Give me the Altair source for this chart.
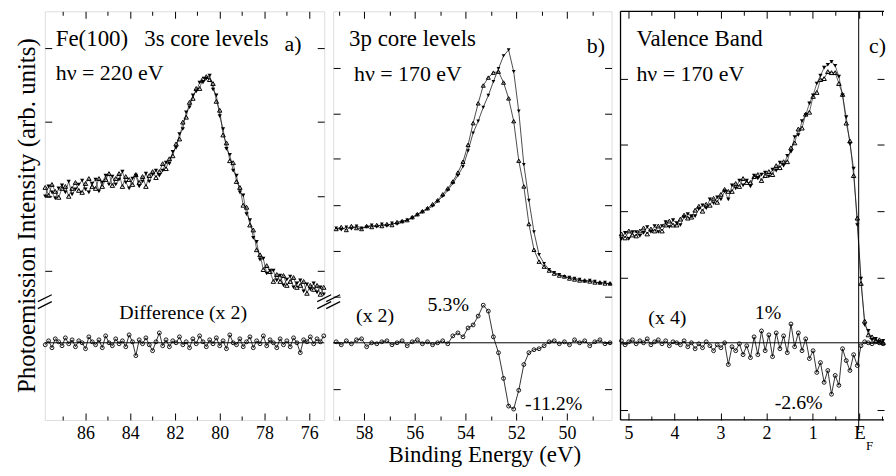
import altair as alt
import numpy as np
import pandas as pd

FONT = "Liberation Serif, Times New Roman, serif"
H = 411  # plot height (px); intensity units are arbitrary (0..413)

# ---------------- Panel a: Fe 3s core levels ----------------
a_E = np.round(87.80 - 0.15 * np.arange(84), 2)
a_A = [235, 227, 238, 231, 225, 234, 236, 226, 234, 240,
       232, 230, 239, 244, 236, 234, 244, 236, 243, 249,
       237, 244, 249, 236, 246, 243, 238, 248, 240, 246,
       236, 247, 251, 245, 251, 259, 254, 264, 267, 279,
       284, 301, 306, 321, 325, 335, 335, 345, 347, 344,
       340, 322, 313, 288, 280, 262, 260, 241, 235, 217,
       215, 197, 192, 172, 167, 152, 156, 150, 140, 147,
       140, 146, 136, 140, 144, 134, 136, 140, 128, 136,
       132, 136, 127, 134]
a_B = [226, 236, 230, 224, 234, 237, 230, 241, 228, 233,
       238, 242, 233, 230, 239, 243, 231, 240, 247, 238,
       246, 238, 243, 251, 240, 234, 244, 247, 236, 241,
       249, 241, 248, 252, 247, 252, 260, 259, 271, 275,
       289, 294, 311, 316, 328, 332, 341, 341, 345, 348,
       334, 328, 307, 294, 274, 268, 252, 247, 230, 227,
       208, 202, 184, 180, 162, 163, 148, 151, 151, 141,
       146, 136, 142, 145, 134, 138, 141, 130, 137, 132,
       138, 129, 134, 127]
a_D = [76, 80, 73, 82, 79, 75, 83, 77, 81, 74,
       80, 78, 72, 84, 79, 76, 81, 73, 85, 78,
       75, 82, 77, 80, 74, 86, 79, 65, 81, 77,
       83, 76, 70, 79, 88, 75, 81, 74, 80, 78,
       84, 76, 79, 73, 82, 77, 85, 79, 74, 81,
       77, 83, 75, 80, 72, 86, 78, 76, 82, 74,
       79, 84, 73, 80, 77, 85, 75, 81, 78, 73,
       82, 76, 80, 74, 83, 78, 68, 81, 79, 84,
       77, 82, 79, 85]

# ---------------- Panel b: Fe 3p core levels ----------------
b_E = np.round(59.1 - 0.2 * np.arange(55), 2)
b_A = [193, 195, 192, 196, 194, 193, 196, 195, 197, 196,
       198, 197, 200, 201, 202, 205, 208, 211, 214, 218,
       222, 228, 234, 241, 250, 261, 278, 300, 320, 338,
       346, 351, 352, 341, 325, 302, 262, 236, 198, 172,
       160, 155, 151, 148, 146, 145, 143, 142, 141, 141,
       140, 139, 139, 138, 138]
b_B = [194, 192, 195, 193, 196, 194, 195, 197, 195, 198,
       196, 199, 198, 200, 202, 204, 207, 210, 213, 216,
       221, 226, 232, 239, 247, 256, 272, 290, 302, 316,
       328, 342, 355, 368, 374, 352, 312, 258, 222, 190,
       167, 158, 152, 149, 147, 145, 144, 143, 142, 140,
       141, 140, 138, 139, 137]
b_D = [79, 76, 80, 77, 81, 82, 74, 78, 77, 79,
       80, 76, 78, 80, 75, 79, 81, 77, 79, 76,
       78, 80, 77, 85, 88, 84, 93, 96, 105, 116,
       110, 84, 68, 42, 14, 11, 30, 56, 68, 71,
       72, 75, 79, 80, 77, 79, 76, 81, 78, 80,
       75, 79, 81, 77, 78]

# ---------------- Panel c: valence band ----------------
c_E = np.round(5.15 - 0.08 * np.arange(72), 2)
c_A = [188, 184, 191, 187, 186, 191, 194, 188, 193, 191,
       196, 191, 197, 201, 197, 197, 203, 207, 204, 205,
       212, 216, 211, 218, 217, 224, 220, 228, 233, 231,
       231, 239, 236, 244, 240, 240, 246, 248, 242, 247,
       251, 248, 257, 255, 261, 261, 275, 280, 294, 295,
       309, 311, 327, 331, 344, 345, 352, 351, 351, 340,
       329, 300, 282, 247, 204, 138, 100, 86, 84, 80,
       81, 78]
c_B = [183, 189, 183, 190, 190, 186, 189, 195, 190, 196,
       190, 196, 200, 195, 202, 199, 197, 205, 208, 206,
       206, 213, 217, 214, 223, 219, 225, 223, 231, 223,
       237, 234, 242, 237, 242, 236, 247, 244, 248, 250,
       246, 253, 252, 260, 257, 267, 271, 286, 288, 302,
       308, 320, 328, 340, 348, 356, 359, 362, 358, 347,
       328, 306, 279, 254, 197, 143, 96, 90, 81, 82,
       79, 80]
c_D = [80, 76, 79, 81, 77, 80, 78, 82, 76, 79,
       81, 77, 80, 75, 79, 78, 76, 80, 74, 78,
       72, 77, 73, 79, 75, 70, 76, 73, 78, 56,
       74, 70, 77, 66, 75, 63, 84, 66, 90, 70,
       86, 64, 88, 72, 85, 68, 97, 74, 88, 70,
       82, 62, 70, 48, 58, 38, 50, 26, 45, 35,
       72, 60, 50, 66, 55, 75, 79, 78, 77, 79,
       78, 77]

BASELINE = [78]

a_major = [86, 84, 82, 80, 78, 76]
a_minor = [87, 85, 83, 81, 79, 77]
b_major = [58, 56, 54, 52, 50]
b_minor = [59, 57, 55, 53, 51, 49]
c_major = [5, 4, 3, 2, 1, 0]
c_minor = [4.5, 3.5, 2.5, 1.5, 0.5, -0.5]
a_yticks = [376, 301, 226, 151]
b_yticks = [356, 310, 264, 217, 171, 125, 78, 31]
c_yticks = [345, 278, 211, 144, 77, 10]


def ax(orient, values, size, **kw):
    d = dict(orient=orient, values=values, tickSize=size, offset=-size,
             domain=False, grid=False, labels=False, ticks=True,
             tickColor="black", tickWidth=1, title=None)
    d.update(kw)
    return alt.Axis(**d)


def one():
    return pd.DataFrame({"k": [0]})


def txt(s, x, y, size=20, align="left"):
    return alt.Chart(one()).mark_text(
        text=s, font=FONT, fontSize=size, align=align,
        baseline="alphabetic", color="black"
    ).encode(x=alt.value(x), y=alt.value(y))


def seg(x1, y1, x2, y2, color="black", w=1.2):
    return alt.Chart(one()).mark_rule(color=color, strokeWidth=w).encode(
        x=alt.value(x1), y=alt.value(y1), x2=alt.value(x2), y2=alt.value(y2))


def brk(x):
    return [seg(x - 7, 292, x + 7, 285), seg(x - 7, 299, x + 7, 292)]


def panel(E, A, B, D, dom, width, major, minor, yticks, extras,
          xtitle=False, ytitle=False, label_expr=None, frame=True,
          lw=0.7, msize=(16, 14)):
    xs = alt.Scale(domain=dom, nice=False, zero=False)
    ys = alt.Scale(domain=[0, 413], nice=False, zero=False)
    spec = pd.DataFrame({"E": list(E) * 2, "I": list(A) + list(B),
                         "s": ["A"] * len(E) + ["B"] * len(E)})
    sa = pd.DataFrame({"E": E, "I": A})
    sb = pd.DataFrame({"E": E, "I": B})
    dd = pd.DataFrame({"E": E, "D": D})

    bkw = dict(labels=True, labelFont=FONT, labelFontSize=18, labelColor="black",
               labelBaseline="alphabetic", labelPadding=19, labelFlush=False,
               labelOverlap=False)
    if label_expr:
        bkw["labelExpr"] = label_expr
    if xtitle:
        bkw.update(title="Binding Energy (eV)", titleFont=FONT, titleFontSize=23,
                   titleFontWeight="normal", titleColor="black",
                   titleBaseline="alphabetic", titleX=152, titleY=49)
    lkw = {}
    if ytitle:
        lkw.update(title="Photoemission Intensity (arb. units)", titleFont=FONT,
                   titleFontSize=25, titleFontWeight="normal", titleColor="black",
                   titleBaseline="alphabetic", titleX=-17, titleY=205, titleAngle=270)

    bottom = ax("bottom", major, 7, **bkw)
    top = ax("top", major, 7)
    bmin = ax("bottom", minor, 4)
    tmin = ax("top", minor, 4)
    left = ax("left", yticks, 7, **lkw)
    right = ax("right", yticks, 7)

    def X(f, axis=None):
        return alt.X(f, type="quantitative", scale=xs, axis=axis)

    def Y(f, axis=None):
        return alt.Y(f, type="quantitative", scale=ys, axis=axis)

    base = alt.Chart(pd.DataFrame({"I": BASELINE})).mark_rule(
        color="black", strokeWidth=1).encode(y=Y("I"))
    sline = alt.Chart(spec).mark_line(color="black", strokeWidth=lw).encode(
        x=X("E", bottom), y=Y("I", left), detail="s:N")
    pa = alt.Chart(sa).mark_point(shape="triangle-up", filled=False, size=msize[0],
                                  color="black", strokeWidth=1.0, opacity=1).encode(
        x=X("E", top), y=Y("I", right))
    pb = alt.Chart(sb).mark_point(shape="triangle-down", filled=True, size=msize[1],
                                  color="black", opacity=1).encode(
        x=X("E", bmin), y=Y("I"))
    dline = alt.Chart(dd).mark_line(color="black", strokeWidth=0.8).encode(
        x=X("E", tmin), y=Y("D"))
    dpts = alt.Chart(dd).mark_point(shape="circle", filled=False, size=15,
                                    color="black", strokeWidth=0.9, opacity=1).encode(
        x=X("E"), y=Y("D"))
    layers = [base, sline, pa, pb, dline, dpts]
    for e in extras:
        if isinstance(e, tuple) and e[0] == "EF":
            layers.append(alt.Chart(pd.DataFrame({"E": [0]})).mark_rule(
                color="black", strokeWidth=1).encode(
                x=X("E"), y=alt.value(0), y2=alt.value(H + 10)))
        else:
            layers.append(e)
    if not frame:
        layers += [seg(0, 0, width, 0, w=1.3), seg(0, H, width, H, w=1.3),
                   seg(0, 0, 0, H, w=1.3)]
    ch = alt.layer(*layers).resolve_scale(
        x="independent", y="independent").resolve_axis(
        x="independent", y="independent")
    props = dict(width=width, height=H)
    if not frame:
        props["view"] = alt.ViewBackground(strokeOpacity=0)
    return ch.properties(**props)


pa_ = panel(a_E, a_A, a_B, a_D, [87.82, 75.33], 281, a_major, a_minor, a_yticks,
            [txt("Fe(100)", 11, 35, 23), txt("3s core levels", 100, 35, 23),
             txt("a)", 241, 40, 22), txt("h\u03bd = 220 eV", 11, 69, 22),
             txt("Difference (x 2)", 75, 309, 20)] + brk(0) + brk(281),
            ytitle=True, lw=0.6, msize=(20, 18))
pb_ = panel(b_E, b_A, b_B, b_D, [59.22, 48.24], 280, b_major, b_minor, b_yticks,
            [txt("3p core levels", 16, 35, 23), txt("b)", 255, 42, 22),
             txt("h\u03bd = 170 eV", 21, 70, 22), txt("(x 2)", 23, 312, 20),
             txt("5.3%", 95, 301, 20), txt("-11.2%", 193, 401, 20)] + brk(0),
            xtitle=True)
pc_ = panel(c_E, c_A, c_B, c_D, [5.17, -0.55], 265, c_major, c_minor, c_yticks,
            [("EF",), txt("Valence Band", 16, 35, 23), txt("c)", 250, 42, 22),
             txt("h\u03bd = 170 eV", 16, 70, 22), txt("(x 4)", 28, 314, 20),
             txt("1%", 135, 309, 20), txt("-2.6%", 155, 400, 20),
             txt("E", 235, 430, 19), txt("F", 247, 441, 13)],
            label_expr="datum.value == 0 ? '' : datum.label", frame=False,
            lw=0.6, msize=(20, 18))

chart = alt.hconcat(pa_, pb_, pc_, spacing=9, bounds="flush").properties(
    padding={"left": 6, "top": 1, "right": 0, "bottom": 0}
).configure_view(stroke="black", strokeWidth=1.3).configure(background="white")

chart.save("out.html", embed_options={"renderer": "svg", "actions": False})
